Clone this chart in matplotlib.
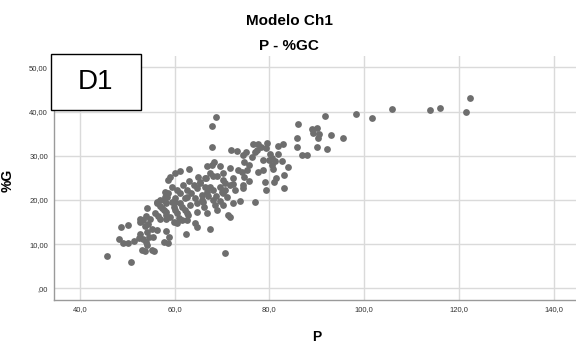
import matplotlib
matplotlib.use('agg')
import matplotlib.pyplot as plt
import numpy as np
from matplotlib.patches import Rectangle

plt.rcParams['font.family'] = ['Liberation Sans', 'DejaVu Sans']

# P values (x) and %G values (y)
p_vals = [
    101.6, 105.9, 113.9, 116.0, 121.4, 122.3, 68.7, 67.8, 68.0, 91.7, 98.2, 86.1, 88.9, 90.1, 89.3,
    90.4, 93.0, 95.6, 85.9, 90.3, 85.8, 90.0, 92.2, 86.8, 88.0,
    76.5, 77.7, 79.4, 81.9, 82.8, 77.3, 78.2, 79.3, 77.0, 75.0, 74.5, 76.3, 80.1, 80.6, 80.0,
    81.9, 81.2, 82.7, 78.7, 74.7, 75.8, 80.5, 80.8, 83.9, 78.6, 77.7, 75.2, 74.2, 74.6, 75.6,
    74.4, 83.0, 81.4, 81.0, 79.1, 83.1, 79.3, 74.4,
    71.9, 73.2, 68.3, 66.9, 68.0, 69.6, 71.8, 73.4, 70.2, 68.2, 66.6, 72.4, 70.6, 65.4, 67.5,
    69.6, 71.7, 66.8, 68.7, 70.3, 72.8, 73.8, 77.0, 65.7, 68.5, 70.3, 66.2, 71.3, 71.7, 67.5, 70.6,
    63.1, 61.1, 60.0, 59.0, 58.7, 65.0, 67.5, 68.9, 70.2, 72.3, 64.0, 62.6, 61.2, 66.4, 68.2,
    70.0, 58.0, 60.5, 65.7, 67.1, 71.0, 62.6, 56.9, 54.1, 56.2, 58.3, 59.4, 59.8, 61.5, 63.3,
    64.7, 68.2, 72.4, 57.7, 52.7, 55.9, 58.3, 60.5, 62.6, 64.7, 66.8, 68.9,
    45.7, 50.8, 48.7, 50.1, 48.3, 49.2, 50.2, 51.5, 52.4, 52.7, 53.4, 53.1, 53.8, 54.1, 54.0,
    55.2, 55.7, 54.7, 55.4, 54.1, 52.7, 53.4, 53.8, 54.5, 54.0, 54.8, 57.7, 58.7, 58.2, 58.9,
    56.9, 58.3, 59.8, 60.5, 61.5, 62.6, 64.4, 64.7, 62.5,
    55.2, 56.2, 56.4, 57.8, 57.3, 58.3, 59.0, 58.5, 60.0,
    66.5, 58.7, 65.4, 70.6, 64.3, 62.2, 60.1, 58.0, 61.1, 60.1, 62.2, 62.9,
    63.5, 64.8, 61.8, 66.0, 59.5, 63.0, 57.0, 61.0, 56.5, 69.5,
]
g_vals = [
    38.6, 40.5, 40.3, 40.9, 39.9, 43.0, 38.7, 36.7, 32.0, 39.0, 39.4, 37.1, 36.0, 36.2, 35.1,
    34.9, 34.8, 34.1, 34.1, 34.1, 31.9, 31.9, 31.6, 30.2, 30.2,
    32.7, 32.7, 32.8, 32.2, 32.6, 31.4, 32.0, 31.8, 30.9, 30.9, 30.2, 29.8, 30.5, 29.4, 29.0,
    30.5, 28.8, 28.8, 29.0, 28.6, 27.9, 27.9, 27.1, 27.4, 26.8, 26.4, 26.8, 26.4, 25.2, 24.3,
    23.4, 25.6, 24.9, 24.1, 24.0, 22.8, 22.2, 22.6,
    31.4, 31.1, 28.6, 27.7, 27.9, 27.7, 27.3, 26.8, 26.0, 25.4, 24.9, 24.9, 23.9, 24.1, 23.0,
    23.0, 23.4, 21.9, 20.9, 21.5, 22.2, 19.8, 19.6, 20.0, 18.8, 18.8, 18.3, 16.6, 16.1, 13.4, 8.1,
    26.9, 26.6, 26.2, 25.1, 24.5, 25.1, 26.0, 25.4, 24.5, 23.6, 23.4, 22.2, 21.5, 23.0, 22.2,
    21.9, 21.9, 22.2, 21.1, 20.9, 20.7, 20.7, 20.0, 18.1, 19.2, 19.2, 19.6, 18.5, 18.5, 18.8,
    19.2, 20.0, 19.2, 17.7, 15.8, 17.0, 16.6, 17.0, 17.0, 17.3, 17.0, 17.7,
    7.3, 5.9, 13.9, 14.3, 11.1, 10.2, 10.2, 10.8, 11.3, 12.4, 11.1, 8.7, 8.5, 9.8, 10.5,
    8.7, 8.4, 11.5, 11.7, 12.8, 15.1, 15.5, 14.1, 14.5, 16.4, 15.8, 10.5, 10.2, 13.0, 11.7,
    15.8, 15.6, 15.1, 14.7, 15.5, 15.5, 14.7, 13.9, 12.4,
    13.5, 13.2, 19.6, 20.0, 18.1, 17.3, 16.2, 20.7, 19.6,
    24.9, 21.5, 23.8, 22.2, 20.4, 20.4, 20.4, 20.7, 19.2, 17.7, 17.7, 16.6,
    21.5, 22.6, 23.3, 19.5, 23.0, 24.2, 18.6, 16.0, 16.4, 19.8,
]

x_ticks = [40, 60, 80, 100, 120, 140]
x_labels = ['40,0', '60,0', '80,0', '100,0', '120,0', '140,0']
y_ticks = [0, 10, 20, 30, 40, 50]
y_labels = [',00', '10,00', '20,00', '30,00', '40,00', '50,00']

fig = plt.figure(figsize=(5.76, 3.45), dpi=100)
ax = fig.add_axes([0.0929, 0.1304, 0.907, 0.707])

ax.scatter(p_vals, g_vals, s=24, color='#6e6e6e', linewidths=0, zorder=3)

ax.set_xlim(34.47, 144.66)
ax.set_ylim(-2.65, 52.56)
ax.set_xticks(x_ticks)
ax.set_xticklabels(x_labels)
ax.set_yticks(y_ticks)
ax.set_yticklabels(y_labels)
ax.tick_params(length=0, labelsize=5.5, colors='#333333', pad=4)
ax.grid(True, color='#dadada', linewidth=1.0, zorder=0)
for s in ['top', 'right']:
    ax.spines[s].set_visible(False)
for s in ['left', 'bottom']:
    ax.spines[s].set_color('#9a9a9a')
    ax.spines[s].set_linewidth(1.0)

ax.set_xlabel('P', fontsize=10, fontweight='bold')
ax.xaxis.set_label_coords((317 - 53.5) / 522.5, -(330 - 300) / 244)
ax.set_ylabel('%G', fontsize=10, fontweight='bold')
ax.yaxis.set_label_coords(-(53.5 - 15) / 522.5, (300 - 180) / 244)

fig.text(289 / 576, 1 - 20.6 / 345, 'Modelo Ch1', ha='center', va='center',
         fontsize=11, fontweight='bold')
fig.text(289 / 576, 1 - 46.5 / 345, 'P - %GC', ha='center', va='center',
         fontsize=11, fontweight='bold')

# D1 label box in the top left corner
box = Rectangle((50.6 / 576, 1 - 110 / 345), 90.2 / 576, 56.4 / 345,
                transform=fig.transFigure, facecolor='white', edgecolor='black',
                linewidth=1.0, zorder=10)
fig.patches.append(box)
fig.text(96 / 576, 1 - 82 / 345, 'D1', ha='center', va='center', fontsize=20, zorder=11)

plt.savefig('out.png', dpi=100)
